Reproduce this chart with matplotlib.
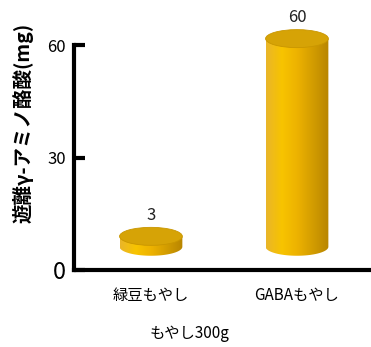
import numpy as np
import matplotlib.pyplot as plt
from matplotlib.colors import LinearSegmentedColormap
from matplotlib.patches import Ellipse, Polygon

plt.rcParams["font.family"] = ["Noto Sans CJK JP", "DejaVu Sans"]

CATEGORIES = ["緑豆もやし", "GABAもやし"]
VALUES = [3, 60]
Y_TICKS = [0, 30, 60]
Y_LABEL = "遊離γ-アミノ酪酸(mg)"
X_LABEL = "もやし300g"

# pseudo-3D look: cylinders float above the floor and are a bit compressed
BASE = 6.2
DEPTH_SCALE = 0.925
BAR_WIDTH = 0.43
ELLIPSE_H = 4.8

SIDE_CMAP = LinearSegmentedColormap.from_list(
    "gold_side",
    ["#E9B52A", "#F8C400", "#EDB200", "#D29C00", "#B88500"],
)
TOP_COLOR = "#D6A306"


def draw_cylinder(ax, x, value):
    left, right = x - BAR_WIDTH / 2, x + BAR_WIDTH / 2
    top = BASE + value * DEPTH_SCALE
    half_h = ELLIPSE_H / 2

    theta = np.linspace(np.pi, 2 * np.pi, 60)
    arc_x = x + BAR_WIDTH / 2 * np.cos(theta)
    arc_y = BASE + half_h * np.sin(theta)
    pts = np.column_stack([arc_x, arc_y])
    pts = np.vstack([pts, [[right, top], [left, top]]])
    side = Polygon(pts, closed=True, facecolor="none", edgecolor="none")
    ax.add_patch(side)

    grad = np.linspace(0, 1, 256).reshape(1, -1)
    img = ax.imshow(
        grad,
        cmap=SIDE_CMAP,
        extent=(left, right, BASE - half_h, top),
        aspect="auto",
        origin="lower",
        zorder=2,
    )
    img.set_clip_path(side)

    cap = Ellipse(
        (x, top),
        BAR_WIDTH,
        ELLIPSE_H,
        facecolor=TOP_COLOR,
        edgecolor="#C99600",
        linewidth=0.6,
        zorder=3,
    )
    ax.add_patch(cap)
    return top + half_h


def main():
    fig = plt.figure(figsize=(3.71, 3.47), dpi=100)
    ax = fig.add_axes([74 / 371, 77 / 347, 297 / 371, 270 / 347])

    positions = np.arange(len(CATEGORIES))
    for x, value in zip(positions, VALUES):
        cap_top = draw_cylinder(ax, x, value)
        ax.text(x, cap_top + 1.0, str(value), ha="center", va="bottom",
                fontsize=12, color="#222222")

    ax.set_xlim(-0.527, 1.507)
    ax.set_ylim(0, 72)

    ax.spines["top"].set_visible(False)
    ax.spines["right"].set_visible(False)
    ax.spines["left"].set_linewidth(3)
    ax.spines["bottom"].set_linewidth(3)
    ax.spines["left"].set_bounds(0, 60)

    ax.set_yticks(Y_TICKS)
    ax.set_yticklabels([str(t) for t in Y_TICKS])
    ax.tick_params(axis="y", direction="in", length=8, width=3,
                   labelsize=12, pad=6)
    ax.get_yticklabels()[0].set_fontsize(17)

    ax.set_xticks(positions)
    ax.set_xticklabels(CATEGORIES)
    ax.tick_params(axis="x", length=0, labelsize=11, pad=12)

    ax.set_xlabel(X_LABEL, fontsize=11)
    ax.xaxis.set_label_coords(0.39, -0.205)
    ax.set_ylabel(Y_LABEL, fontsize=14, fontweight="bold",
                  va="center", ha="center", rotation_mode="default")
    ax.yaxis.set_label_coords(-0.172, 0.544)

    fig.savefig("out.png", dpi=100)
    plt.close(fig)


if __name__ == "__main__":
    main()
